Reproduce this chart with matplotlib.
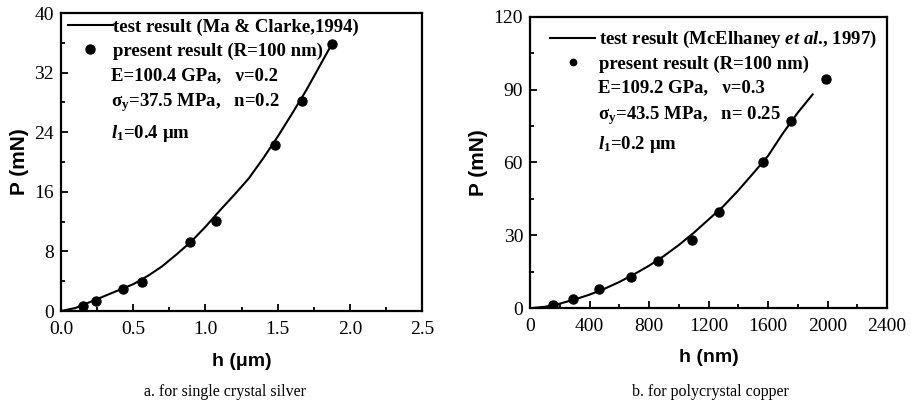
import matplotlib.pyplot as plt
from matplotlib.ticker import MultipleLocator

plt.rcParams['mathtext.fontset'] = 'custom'
plt.rcParams['mathtext.rm'] = 'Liberation Serif:bold'
plt.rcParams['mathtext.it'] = 'Liberation Serif:italic:bold'
plt.rcParams['mathtext.bf'] = 'Liberation Serif:bold'

# (a) single crystal silver
h_test_a = [0, 0.1, 0.2, 0.3, 0.4, 0.5, 0.6, 0.7, 0.8, 0.9, 1.0, 1.1, 1.2,
            1.3, 1.4, 1.5, 1.6, 1.7, 1.8, 1.88]
P_test_a = [0, 0.4, 1.2, 2.0, 2.8, 3.6, 4.7, 6.0, 7.6, 9.3, 11.3, 13.5, 15.6,
            17.8, 20.5, 23.4, 26.5, 29.7, 33.2, 36.0]
h_pres_a = [0.15, 0.24, 0.43, 0.56, 0.89, 1.07, 1.48, 1.67, 1.875]
P_pres_a = [0.7, 1.4, 2.9, 3.9, 9.2, 12.1, 22.3, 28.2, 35.8]

# (b) polycrystal copper
h_test_b = [0, 100, 200, 300, 400, 500, 600, 700, 800, 900, 1000, 1100, 1200,
            1300, 1400, 1500, 1600, 1700, 1800, 1900]
P_test_b = [0, 0.6, 1.9, 3.6, 5.6, 8.0, 10.8, 14.0, 17.5, 21.5, 26.0, 31.0,
            36.5, 42.0, 48.5, 55.5, 62.7, 72.0, 80.5, 88.0]
h_pres_b = [157, 287, 464, 680, 859, 1092, 1272, 1566, 1754, 1992]
P_pres_b = [1.4, 3.7, 8.1, 12.7, 19.6, 28.1, 39.5, 60.3, 77.2, 94.4]

serif = 'Liberation Serif'
sans = 'Liberation Sans'
fs = 13.5

fig = plt.figure(figsize=(9.11, 4.11), dpi=100)
ax1 = fig.add_axes([0.067, 0.2433, 0.3963, 0.725])
ax2 = fig.add_axes([0.5818, 0.25, 0.3919, 0.7095])


def style(ax, xmaj, ymaj):
    ax.xaxis.set_major_locator(MultipleLocator(xmaj))
    ax.xaxis.set_minor_locator(MultipleLocator(xmaj / 2))
    ax.yaxis.set_major_locator(MultipleLocator(ymaj))
    ax.yaxis.set_minor_locator(MultipleLocator(ymaj / 2))
    ax.tick_params(which='both', direction='in', width=1.3)
    ax.tick_params(which='major', length=5, labelsize=14)
    ax.tick_params(axis='x', which='major', pad=7)
    ax.tick_params(axis='y', which='major', pad=5)
    ax.tick_params(which='minor', length=3)
    for lab in ax.get_xticklabels() + ax.get_yticklabels():
        lab.set_fontfamily(serif)
    for sp in ax.spines.values():
        sp.set_linewidth(1.6)


ax1.plot(h_test_a, P_test_a, color='black', lw=1.5,
         label='test result (Ma & Clarke,1994)')
ax1.plot(h_pres_a, P_pres_a, 'o', color='black', ms=6.5,
         label='present result (R=100 nm)')
ax1.set_xlim(0, 2.5)
ax1.set_ylim(0, 40)
style(ax1, 0.5, 8)
ax1.set_xlabel('h (\u03bcm)', fontfamily=sans, fontweight='bold', fontsize=14, labelpad=11)
ax1.set_ylabel('P (mN)', fontfamily=sans, fontweight='bold', fontsize=15, labelpad=4)
ax1.legend(loc='upper left', bbox_to_anchor=(-0.012, 1.02), frameon=False,
           handlelength=2.4, handletextpad=0.0, borderaxespad=0.2, labelspacing=0.35,
           prop={'family': serif, 'weight': 'bold', 'size': fs})
tx = 0.1385
ax1.text(tx, 0.789, 'E=100.4 GPa,   \u03bd=0.2', transform=ax1.transAxes,
         fontfamily=serif, fontweight='bold', fontsize=fs, va='center')
ax1.text(tx, 0.700, '\u03c3$_\\mathrm{y}$=37.5 MPa,   n=0.2', transform=ax1.transAxes,
         fontfamily=serif, fontweight='bold', fontsize=fs, va='center')
ax1.text(tx, 0.597, '$\\mathit{l}_\\mathrm{1}$=0.4 \u03bcm', transform=ax1.transAxes,
         fontfamily=serif, fontweight='bold', fontsize=fs, va='center')

ax2.plot(h_test_b, P_test_b, color='black', lw=1.5,
         label='test result (McElhaney $\\mathit{et\\ al}$., 1997)')
ax2.plot(h_pres_b, P_pres_b, 'o', color='black', ms=6.5,
         label='present result (R=100 nm)')
ax2.set_xlim(0, 2400)
ax2.set_ylim(0, 120)
style(ax2, 400, 30)
ax2.set_xlabel('h (nm)', fontfamily=sans, fontweight='bold', fontsize=14, labelpad=10)
ax2.set_ylabel('P (mN)', fontfamily=sans, fontweight='bold', fontsize=15, labelpad=4)
ax2.legend(loc='upper left', bbox_to_anchor=(0.025, 0.995), frameon=False,
           handlelength=2.4, handletextpad=0.2, borderaxespad=0.2, labelspacing=0.28,
           markerscale=0.7,
           prop={'family': serif, 'weight': 'bold', 'size': fs})
tx = 0.19
ax2.text(tx, 0.755, 'E=109.2 GPa,   \u03bd=0.3', transform=ax2.transAxes,
         fontfamily=serif, fontweight='bold', fontsize=fs, va='center')
ax2.text(tx, 0.662, '\u03c3$_\\mathrm{y}$=43.5 MPa,   n= 0.25', transform=ax2.transAxes,
         fontfamily=serif, fontweight='bold', fontsize=fs, va='center')
ax2.text(tx, 0.563, '$\\mathit{l}_\\mathrm{1}$=0.2 \u03bcm', transform=ax2.transAxes,
         fontfamily=serif, fontweight='bold', fontsize=fs, va='center')

fig.text(225 / 911, 1 - 392 / 411, 'a. for single crystal silver', fontfamily=serif,
         fontsize=11.5, ha='center', va='center')
fig.text(710 / 911, 1 - 392 / 411, 'b. for polycrystal copper', fontfamily=serif,
         fontsize=11.5, ha='center', va='center')

fig.savefig('out.png', dpi=100)
